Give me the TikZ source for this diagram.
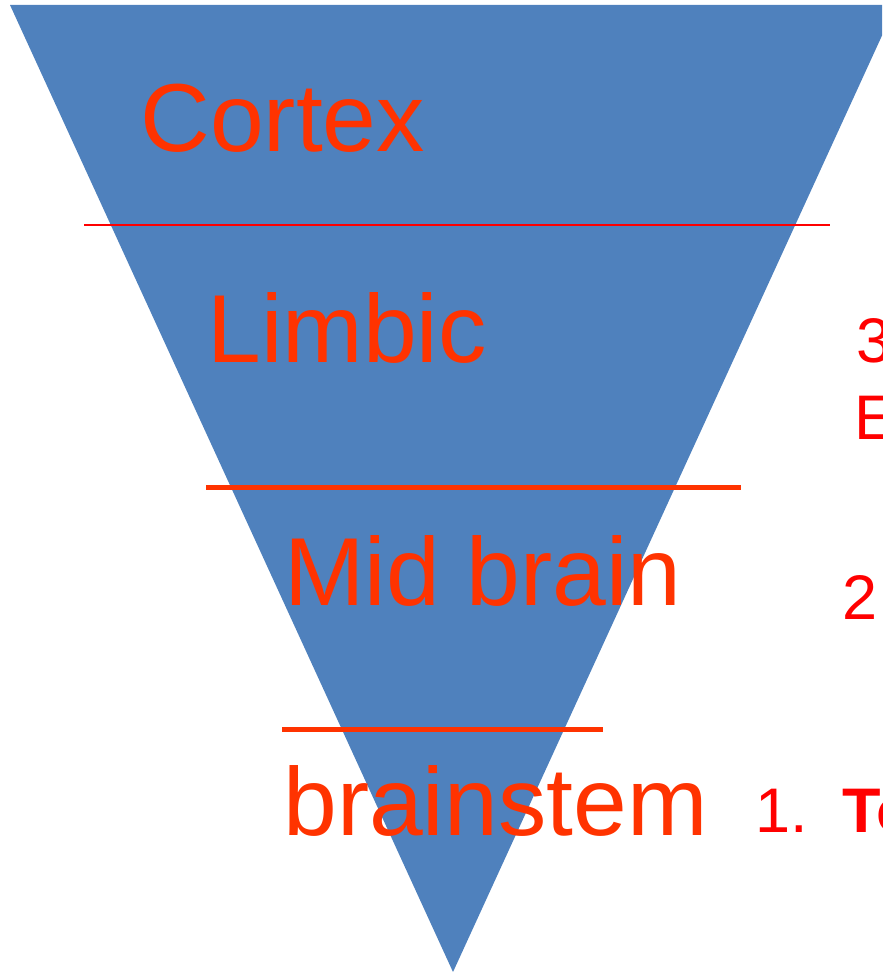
\documentclass[tikz,border=0pt]{standalone}
\usepackage{fontspec}
\setmainfont{Liberation Sans}
\definecolor{pyrblue}{RGB}{79,129,189}
\definecolor{layerred}{RGB}{255,51,0}
\colorlet{notered}{red}
\tikzset{
	layer/.style={
		anchor=base west, inner sep=0, text=layerred,
		font=\fontsize{48.3}{58}\selectfont,
	},
	note/.style={
		anchor=base west, inner sep=0, text=notered,
		font=\fontsize{31.5}{38}\selectfont,
	},
	divider/.style={
		draw=layerred, line width=2.5pt,
	}
}

\begin{document}
\begin{tikzpicture}[x=0.5pt, y=-0.5pt]
	\useasboundingbox (0,0) rectangle (882,972);
	\clip (0,0) rectangle (882,972);
	% Pyramid
	\fill[pyrblue] (10,5) -- (896,5) -- (453,972) -- cycle;
	% Dividers
	\draw[divider, draw=red, line width=1pt] (84,225) -- (830,225);
	\draw[divider] (206,487) -- (741,487);
	\draw[divider] (282,729) -- (603,729);
	% Layer names
	\node[layer] (cortex) at (140,152) {Cortex};
	\node[layer] (limbic) at (207,363) {Limbic};
	\node[layer] (midbrain) at (284,605) {Mid brain};
	\node[layer] (brainstem) at (283,835) {brainstem};
	% Notes on the right
	\node[note] (three) at (856,363) {3};
	\node[note] (threeb) at (854,439) {E};
	\node[note] (two) at (842,619) {2};
	\node[note] (one) at (755,832) {1.};
	\node[note, font=\fontsize{31.5}{38}\selectfont\bfseries] (onetext) at (842,832) {To};
\end{tikzpicture}
\end{document}
